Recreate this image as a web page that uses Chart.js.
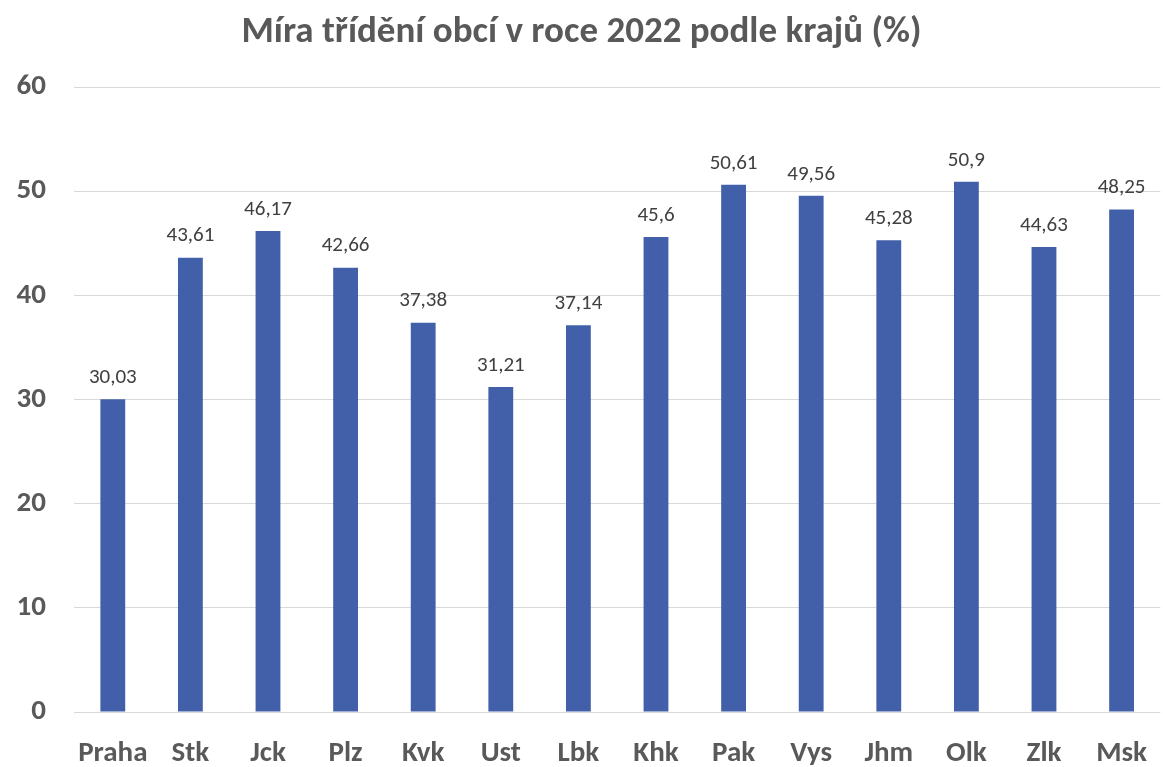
<!DOCTYPE html>
<html>
<head>
<meta charset="utf-8">
<script src="https://cdn.jsdelivr.net/npm/chart.js@4"></script>
<style>
  html, body { margin: 0; padding: 0; background: #fff; }
  #box { width: 1163px; height: 767px; }
</style>
</head>
<body>
<div id="box"><canvas id="graf"></canvas></div>
<script>
const kraje = ['Praha', 'Stk', 'Jck', 'Plz', 'Kvk', 'Ust', 'Lbk', 'Khk', 'Pak', 'Vys', 'Jhm', 'Olk', 'Zlk', 'Msk'];
const miraTrideni = [30.03, 43.61, 46.17, 42.66, 37.38, 31.21, 37.14, 45.6, 50.61, 49.56, 45.28, 50.9, 44.63, 48.25];
const yTicks = [0, 10, 20, 30, 40, 50, 60];

const pismo = 'Carlito, Lato, sans-serif';

// popisky hodnot nad sloupci
const popisky = {
    id: 'popisky',
    afterDatasetsDraw(chart) {
        const c = chart.ctx;
        const meta = chart.getDatasetMeta(0);
        c.save();
        c.font = '21px ' + pismo;
        c.fillStyle = '#404040';
        c.textAlign = 'center';
        c.textBaseline = 'bottom';
        meta.data.forEach((bar, i) => {
            const txt = String(miraTrideni[i]).replace('.', ',');
            c.fillText(txt, bar.x, bar.y - 11);
        });
        c.restore();
    }
};

const ctx = document.getElementById('graf').getContext('2d');
const graf = new Chart(ctx, {
    type: 'bar',
    data: {
        labels: kraje,
        datasets: [{
            data: miraTrideni,
            backgroundColor: '#4260AA',
            categoryPercentage: 1,
            barPercentage: 0.32
        }]
    },
    options: {
        responsive: true,
        maintainAspectRatio: false,
        animation: false,
        layout: { padding: { left: 0, right: 0, top: 0, bottom: 0 } },
        plugins: {
            legend: { display: false },
            tooltip: { enabled: false },
            title: {
                display: true,
                text: 'Míra třídění obcí v roce 2022 podle krajů (%)',
                color: '#595959',
                font: { family: pismo, size: 37, weight: 'bold' },
                padding: { top: 11, bottom: 31.6 }
            }
        },
        scales: {
            x: {
                grid: { display: false },
                border: { display: false },
                ticks: { color: '#595959', font: { family: pismo, size: 29, weight: 'bold' }, padding: 16 },
                afterFit(s) { s.height = 55; }
            },
            y: {
                min: 0,
                max: 60,
                afterBuildTicks(s) { s.ticks = yTicks.map(v => ({ value: v })); },
                grid: { color: '#D9D9D9', drawTicks: false },
                border: { display: false },
                ticks: { color: '#595959', font: { family: pismo, size: 29, weight: 'bold' }, padding: 28 },
                afterFit(s) { s.width = 74; }
            }
        }
    },
    plugins: [popisky]
});
</script>
</body>
</html>
